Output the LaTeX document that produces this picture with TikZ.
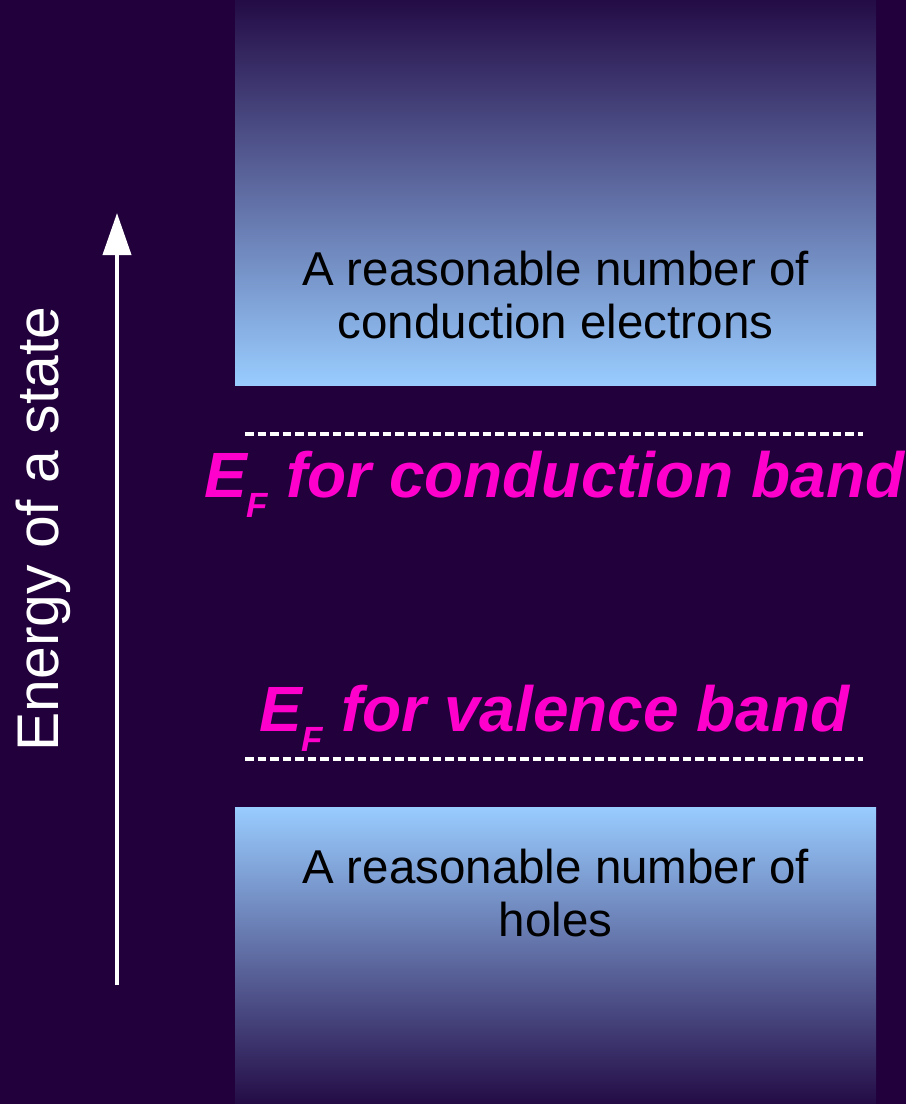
\documentclass[tikz,border=0pt]{standalone}
\usepackage{fontspec}
\setmainfont{Liberation Sans}
\usetikzlibrary{arrows.meta, positioning}
\definecolor{nightpurple}{RGB}{33,0,59}
\definecolor{bandlight}{RGB}{153,204,255}
\definecolor{banddark}{RGB}{36,12,70}
\definecolor{fermipink}{RGB}{255,0,204}

\tikzset{
  band/.style={draw=none},
  bandtext/.style={font=\fontsize{47.5}{53}\selectfont, text=black, align=center, inner sep=0pt},
  fermiline/.style={white, line width=3.3pt, dash pattern=on 8.5pt off 4pt},
  fermitext/.style={font=\fontsize{64}{64}\selectfont\bfseries\itshape, text=fermipink, inner sep=0pt, anchor=base west},
}
\newcommand{\fsub}{\raisebox{-20pt}{\fontsize{35}{35}\selectfont F}}

\begin{document}
\begin{tikzpicture}[x=1pt, y=-1pt]
            \fill[nightpurple] (0,0) rectangle (906,1104);
            \useasboundingbox (0,0) rectangle (906,1104);

            % bands
            \shade[band, top color=banddark, bottom color=bandlight] (235,0) rectangle (876,385);
            \shade[band, top color=bandlight, bottom color=banddark] (235,807) rectangle (876,1104);

            \node[bandtext] (cond) at (555.5,295) {A reasonable number of\\conduction electrons};
            \node[bandtext] (val) at (555.5,893) {A reasonable number of\\holes};

            % Fermi levels
            \coordinate (cl) at (245,434);
            \coordinate (cr) at (863,434);
            \coordinate (vl) at (245,759);
            \coordinate (vr) at (863,759);
            \draw[fermiline] (cl) -- (cr);
            \draw[fermiline] (vl) -- (vr);

            \node[fermitext] (efc) at (204,497) {E\fsub\ for conduction band};
            \node[fermitext] (efv) at (259,731) {E\fsub\ for valence band};

            % energy axis
            \coordinate (ebot) at (117,985);
            \coordinate (etop) at (117,213);
            \draw[white, line width=4pt, -{Triangle[length=42pt, width=28pt]}] (ebot) -- (etop);
            \node[font=\fontsize{58.8}{58.8}\selectfont, text=white, rotate=90, anchor=base, inner sep=0pt] (energy) at (58,529) {Energy of a state};
        \end{tikzpicture}
\end{document}
